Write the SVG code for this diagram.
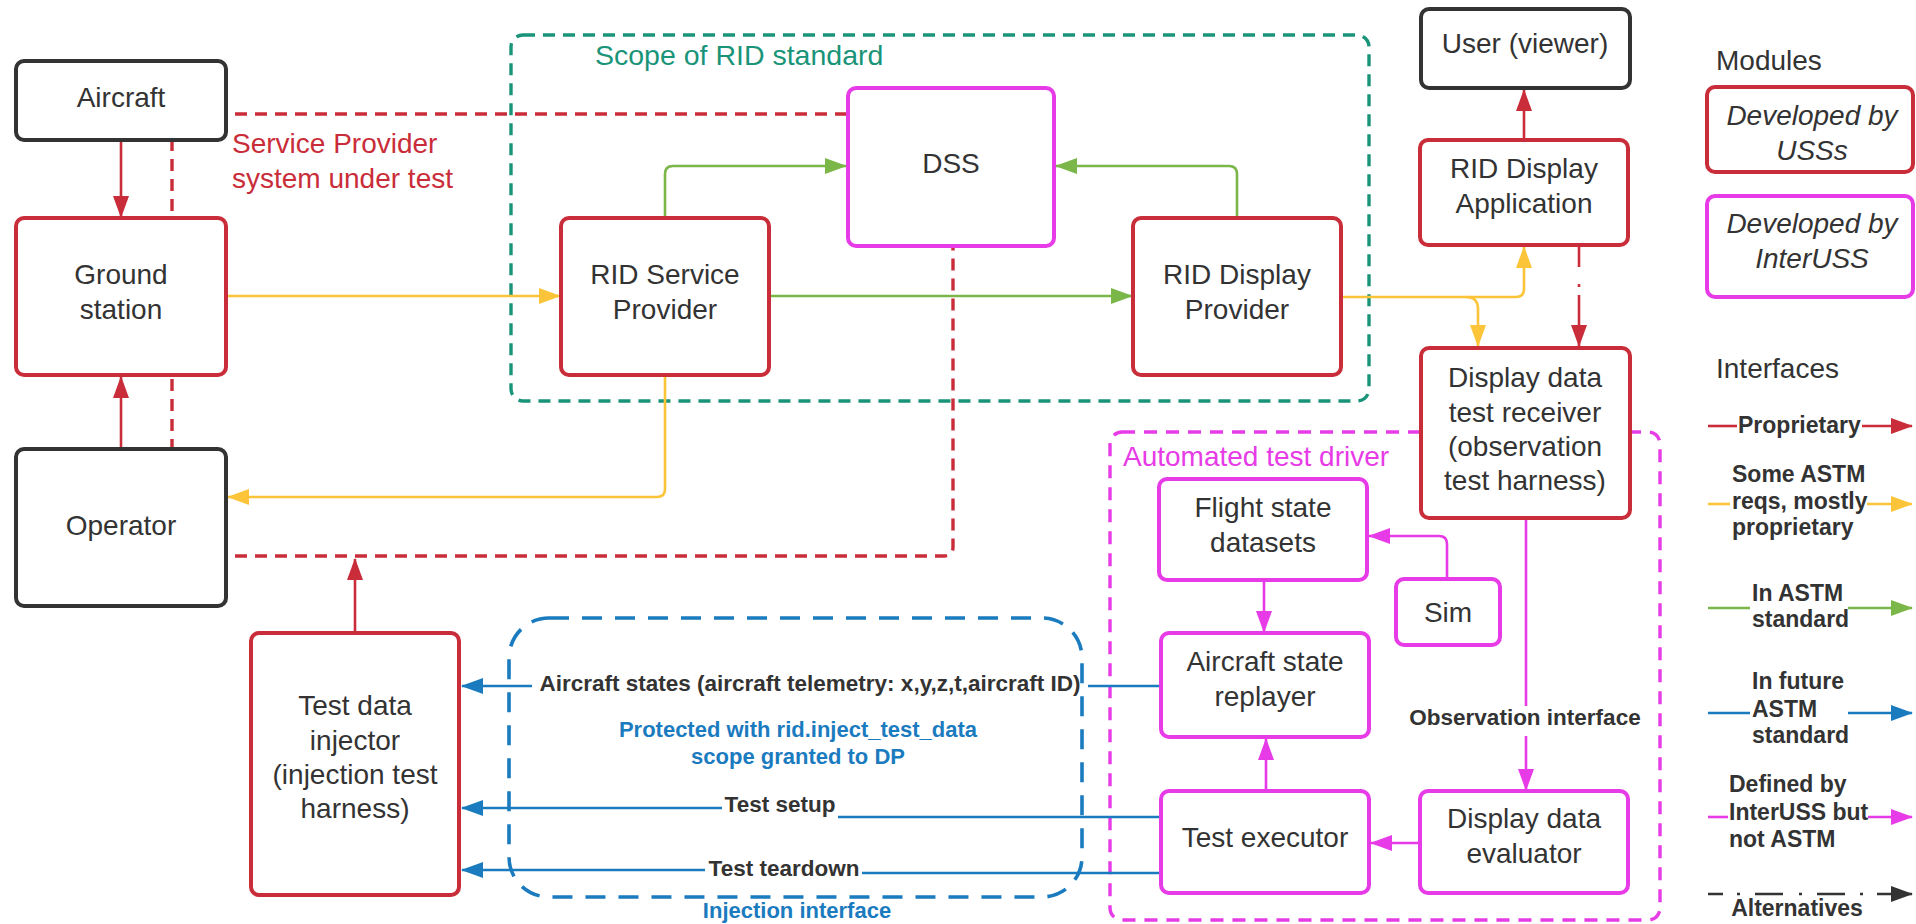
<svg xmlns="http://www.w3.org/2000/svg" width="1916" height="924" viewBox="0 0 1916 924">
<defs>
<style>
text{font-family:"Liberation Sans",Arial,sans-serif;fill:#333333}
.nt{font-size:28px;text-anchor:middle}
.it{font-size:28px;text-anchor:middle;font-style:italic}
.lb{font-size:23px;font-weight:bold}
.lbl{font-size:23px;font-weight:bold;text-anchor:middle}
.lbc{font-size:22.5px;font-weight:bold;text-anchor:middle}
.box{fill:#ffffff;stroke-width:4}
.k{stroke:#333333}
.r{stroke:#c92d39}
.m{stroke:#e63be6}
.c{fill:none;stroke-width:2.6}
.cr{stroke:#c92d39}
.cy{stroke:#fcc438}
.cg{stroke:#7ab648}
.cb{stroke:#1b7bbf}
.cm{stroke:#e63be6}
.ck{stroke:#333333}
</style>
<marker id="ar" viewBox="0 0 22 16" refX="21" refY="8" markerWidth="22" markerHeight="16" markerUnits="userSpaceOnUse" orient="auto"><path d="M0,0 L22,8 L0,16 z" fill="#c92d39"/></marker>
<marker id="ay" viewBox="0 0 22 16" refX="21" refY="8" markerWidth="22" markerHeight="16" markerUnits="userSpaceOnUse" orient="auto"><path d="M0,0 L22,8 L0,16 z" fill="#fcc438"/></marker>
<marker id="ag" viewBox="0 0 22 16" refX="21" refY="8" markerWidth="22" markerHeight="16" markerUnits="userSpaceOnUse" orient="auto"><path d="M0,0 L22,8 L0,16 z" fill="#7ab648"/></marker>
<marker id="ab" viewBox="0 0 22 16" refX="21" refY="8" markerWidth="22" markerHeight="16" markerUnits="userSpaceOnUse" orient="auto"><path d="M0,0 L22,8 L0,16 z" fill="#1b7bbf"/></marker>
<marker id="am" viewBox="0 0 22 16" refX="21" refY="8" markerWidth="22" markerHeight="16" markerUnits="userSpaceOnUse" orient="auto"><path d="M0,0 L22,8 L0,16 z" fill="#e63be6"/></marker>
<marker id="ak" viewBox="0 0 22 16" refX="21" refY="8" markerWidth="22" markerHeight="16" markerUnits="userSpaceOnUse" orient="auto"><path d="M0,0 L22,8 L0,16 z" fill="#333333"/></marker>
</defs>
<rect x="0" y="0" width="1916" height="924" fill="#ffffff"/>

<g id="boundaries">
<path d="M847,114 H172 V556 H944 Q953,556 953,547 V247" fill="none" stroke="#c92d39" stroke-width="3.4" stroke-dasharray="12 8"/>
<text x="232" y="153" font-size="28" style="fill:#c92d39">Service Provider</text>
<text x="232" y="188" font-size="28" style="fill:#c92d39">system under test</text>
<rect x="511" y="35" width="858" height="366" rx="12" fill="none" stroke="#1a9479" stroke-width="3.4" stroke-dasharray="12 8"/>
<text x="595" y="65" font-size="28.5" style="fill:#1a9479">Scope of RID standard</text>
<rect x="509" y="618" width="573" height="279" rx="40" fill="none" stroke="#1b7bbf" stroke-width="3.6" stroke-dasharray="20 13"/>
<text x="798" y="737" class="lbc" style="fill:#1b7bbf;font-size:22px">Protected with rid.inject_test_data</text>
<text x="798" y="764" class="lbc" style="fill:#1b7bbf;font-size:22px">scope granted to DP</text>
<text x="797" y="918" class="lbc" style="fill:#1b7bbf;font-size:22px">Injection interface</text>
<rect x="1110" y="432" width="550" height="488" rx="12" fill="none" stroke="#e63be6" stroke-width="3.4" stroke-dasharray="13 9"/>
<text x="1123" y="466" font-size="28" style="fill:#e63be6">Automated test driver</text>
</g>

<g id="connectors">
<path class="c cr" d="M121,140 V217" marker-end="url(#ar)"/>
<path class="c cr" d="M121,449 V377" marker-end="url(#ar)"/>
<path class="c cr" d="M355,633 V559" marker-end="url(#ar)"/>
<path class="c cr" d="M1524,140 V90" marker-end="url(#ar)"/>
<path class="c cr" d="M1579,245 V346" stroke-dasharray="22 17 3 8 80" marker-end="url(#ar)"/>
<path class="c cy" d="M226,296 H560" marker-end="url(#ay)"/>
<path class="c cy" d="M665,375 V489 Q665,497 657,497 H228" marker-end="url(#ay)"/>
<path class="c cy" d="M1341,297 H1516 Q1524,297 1524,289 V247" marker-end="url(#ay)"/>
<path class="c cy" d="M1466,297 Q1478,297 1478,309 V346" marker-end="url(#ay)"/>
<path class="c cg" d="M665,218 V174 Q665,166 673,166 H846" marker-end="url(#ag)"/>
<path class="c cg" d="M1237,218 V174 Q1237,166 1229,166 H1056" marker-end="url(#ag)"/>
<path class="c cg" d="M769,296 H1132" marker-end="url(#ag)"/>
<path class="c cb" d="M1161,686 H1088"/>
<path class="c cb" d="M532,686 H462" marker-end="url(#ab)"/>
<text x="810" y="691" class="lbc">Aircraft states (aircraft telemetry: x,y,z,t,aircraft ID)</text>
<path class="c cb" d="M1161,817 H838"/>
<path class="c cb" d="M722,808 H462" marker-end="url(#ab)"/>
<text x="780" y="812" class="lbc">Test setup</text>
<path class="c cb" d="M1161,873 H862"/>
<path class="c cb" d="M705,870 H462" marker-end="url(#ab)"/>
<text x="784" y="876" class="lbc">Test teardown</text>
<path class="c cm" d="M1264,580 V632" marker-end="url(#am)"/>
<path class="c cm" d="M1266,791 V739" marker-end="url(#am)"/>
<path class="c cm" d="M1447,579 V544 Q1447,536 1439,536 H1369" marker-end="url(#am)"/>
<path class="c cm" d="M1526,518 V706"/>
<path class="c cm" d="M1526,736 V790" marker-end="url(#am)"/>
<text x="1525" y="725" class="lbc">Observation interface</text>
<path class="c cm" d="M1420,843 H1371" marker-end="url(#am)"/>
</g>

<g id="aircraft"><rect class="box k" x="16" y="61" width="210" height="79" rx="8"/><text class="nt" x="121" y="107">Aircraft</text></g>
<g id="ground-station"><rect class="box r" x="16" y="218" width="210" height="157" rx="8"/><text class="nt" x="121" y="284">Ground</text><text class="nt" x="121" y="319">station</text></g>
<g id="operator"><rect class="box k" x="16" y="449" width="210" height="157" rx="8"/><text class="nt" x="121" y="535">Operator</text></g>
<g id="test-data-injector"><rect class="box r" x="251" y="633" width="208" height="262" rx="8"/><text class="nt" x="355" y="715">Test data</text><text class="nt" x="355" y="750">injector</text><text class="nt" x="355" y="784">(injection test</text><text class="nt" x="355" y="818">harness)</text></g>
<g id="dss"><rect class="box m" x="848" y="88" width="206" height="158" rx="8"/><text class="nt" x="951" y="173">DSS</text></g>
<g id="rid-service-provider"><rect class="box r" x="561" y="218" width="208" height="157" rx="8"/><text class="nt" x="665" y="284">RID Service</text><text class="nt" x="665" y="319">Provider</text></g>
<g id="rid-display-provider"><rect class="box r" x="1133" y="218" width="208" height="157" rx="8"/><text class="nt" x="1237" y="284">RID Display</text><text class="nt" x="1237" y="319">Provider</text></g>
<g id="user-viewer"><rect class="box k" x="1421" y="9" width="209" height="79" rx="8"/><text class="nt" x="1525" y="53">User (viewer)</text></g>
<g id="rid-display-application"><rect class="box r" x="1420" y="140" width="208" height="105" rx="8"/><text class="nt" x="1524" y="178">RID Display</text><text class="nt" x="1524" y="213">Application</text></g>
<g id="display-data-test-receiver"><rect class="box r" x="1421" y="348" width="209" height="170" rx="8"/><text class="nt" x="1525" y="387">Display data</text><text class="nt" x="1525" y="422">test receiver</text><text class="nt" x="1525" y="456">(observation</text><text class="nt" x="1525" y="490">test harness)</text></g>
<g id="flight-state-datasets"><rect class="box m" x="1159" y="479" width="208" height="101" rx="8"/><text class="nt" x="1263" y="517">Flight state</text><text class="nt" x="1263" y="552">datasets</text></g>
<g id="sim"><rect class="box m" x="1396" y="579" width="104" height="66" rx="8"/><text class="nt" x="1448" y="622">Sim</text></g>
<g id="aircraft-state-replayer"><rect class="box m" x="1161" y="633" width="208" height="104" rx="8"/><text class="nt" x="1265" y="671">Aircraft state</text><text class="nt" x="1265" y="706">replayer</text></g>
<g id="test-executor"><rect class="box m" x="1161" y="791" width="208" height="102" rx="8"/><text class="nt" x="1265" y="847">Test executor</text></g>
<g id="display-data-evaluator"><rect class="box m" x="1420" y="791" width="208" height="102" rx="8"/><text class="nt" x="1524" y="828">Display data</text><text class="nt" x="1524" y="863">evaluator</text></g>

<g id="legend">
<text x="1716" y="70" font-size="28">Modules</text>
<rect class="box r" x="1707" y="87" width="206" height="85" rx="8"/>
<text class="it" x="1812" y="125">Developed by</text><text class="it" x="1812" y="160">USSs</text>
<rect class="box m" x="1707" y="196" width="206" height="101" rx="8"/>
<text class="it" x="1812" y="233">Developed by</text><text class="it" x="1812" y="268">InterUSS</text>
<text x="1716" y="378" font-size="28">Interfaces</text>
<path class="c cr" d="M1708,426 H1737"/><path class="c cr" d="M1862,426 H1912" marker-end="url(#ar)"/>
<text class="lb" x="1738" y="433">Proprietary</text>
<path class="c cy" d="M1708,504 H1730"/><path class="c cy" d="M1867,504 H1912" marker-end="url(#ay)"/>
<text class="lb" x="1732" y="482">Some ASTM</text><text class="lb" x="1732" y="509">reqs, mostly</text><text class="lb" x="1732" y="535">proprietary</text>
<path class="c cg" d="M1708,608 H1750"/><path class="c cg" d="M1848,608 H1912" marker-end="url(#ag)"/>
<text class="lb" x="1752" y="601">In ASTM</text><text class="lb" x="1752" y="627">standard</text>
<path class="c cb" d="M1708,713 H1750"/><path class="c cb" d="M1848,713 H1912" marker-end="url(#ab)"/>
<text class="lb" x="1752" y="689">In future</text><text class="lb" x="1752" y="717">ASTM</text><text class="lb" x="1752" y="743">standard</text>
<path class="c cm" d="M1708,817 H1728"/><path class="c cm" d="M1868,817 H1912" marker-end="url(#am)"/>
<text class="lb" x="1729" y="792">Defined by</text><text class="lb" x="1729" y="820">InterUSS but</text><text class="lb" x="1729" y="847">not ASTM</text>
<path class="c ck" d="M1708,894 H1912" stroke-dasharray="15 14 3 15 28 16 3 15 28 15 3 14 60" marker-end="url(#ak)"/>
<text class="lbl" x="1797" y="916">Alternatives</text>
</g>
</svg>
